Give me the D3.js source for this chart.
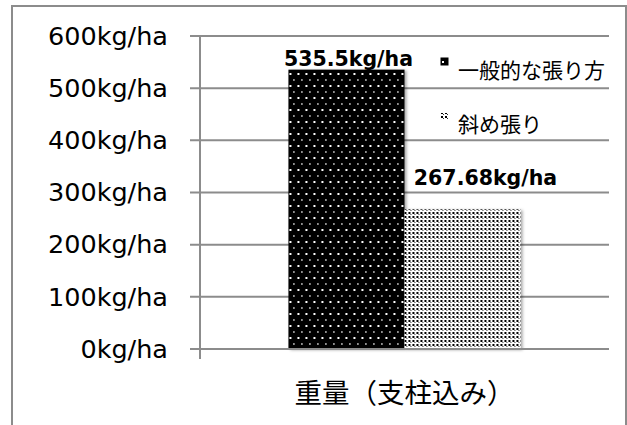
<!DOCTYPE html>
<html>
<head>
<meta charset="utf-8">
<script src="https://cdn.jsdelivr.net/npm/d3@7/dist/d3.min.js"></script>
<style>
  html, body { margin: 0; padding: 0; background: #fff; }
  svg { display: block; }
</style>
</head>
<body>
<svg id="chart" width="627" height="425"></svg>
<script>
// Harvest weight by net installation method
const categories = ["重量（支柱込み）"];
const seriesNames = ["一般的な張り方", "斜め張り"];
const seriesValues = [535.5, 267.68];
const valueLabels = ["535.5kg/ha", "267.68kg/ha"];
const yTicks = [0, 100, 200, 300, 400, 500, 600];
const yTickLabels = ["0kg/ha", "100kg/ha", "200kg/ha", "300kg/ha", "400kg/ha", "500kg/ha", "600kg/ha"];

const svg = d3.select("#chart");
const defs = svg.append("defs");

// Dark pattern: black fill with sparse white dots
const pDark = defs.append("pattern").attr("id", "patDark")
  .attr("patternUnits", "userSpaceOnUse").attr("width", 8).attr("height", 12);
pDark.append("rect").attr("width", 8).attr("height", 12).attr("fill", "#000");
pDark.append("rect").attr("x", 1).attr("y", 1).attr("width", 2).attr("height", 2).attr("fill", "#fff");
pDark.append("rect").attr("x", 5).attr("y", 7).attr("width", 1).attr("height", 2).attr("fill", "#fff");

// Light pattern: white fill with dense black dots
const pLight = defs.append("pattern").attr("id", "patLight")
  .attr("patternUnits", "userSpaceOnUse").attr("width", 4).attr("height", 4);
pLight.append("rect").attr("width", 4).attr("height", 4).attr("fill", "#fff");
pLight.append("rect").attr("x", 0).attr("y", 0).attr("width", 2).attr("height", 2).attr("fill", "#000");
pLight.append("rect").attr("x", 2).attr("y", 2).attr("width", 1).attr("height", 1).attr("fill", "#333");

const fills = ["url(#patDark)", "url(#patLight)"];

// Soft drop shadow under bars
const shadow = defs.append("filter").attr("id", "shadow")
  .attr("x", "-10%").attr("y", "-10%").attr("width", "120%").attr("height", "120%");
shadow.append("feDropShadow").attr("dx", 2).attr("dy", 1).attr("stdDeviation", 1.5)
  .attr("flood-color", "#000").attr("flood-opacity", 0.35);

// Chart frame
svg.append("rect").attr("x", 12).attr("y", 6).attr("width", 614).attr("height", 430)
  .attr("fill", "#fff").attr("stroke", "#8c8c8c").attr("stroke-width", 2);

const plot = { left: 200, right: 609, top: 36, bottom: 349 };

const y = d3.scaleLinear().domain([0, 600]).range([plot.bottom, plot.top]);
const x0 = d3.scaleBand().domain(categories).range([plot.left, plot.right]).paddingInner(0).paddingOuter(0.381);
const x1 = d3.scaleBand().domain(seriesNames).range([0, x0.bandwidth()]);

// Gridlines
svg.append("g").selectAll("line").data(yTicks).join("line")
  .attr("x1", plot.left - 10).attr("x2", plot.right)
  .attr("y1", d => y(d)).attr("y2", d => y(d))
  .attr("stroke", "#8c8c8c").attr("stroke-width", 2);

// Vertical axis line
svg.append("line").attr("x1", plot.left).attr("x2", plot.left)
  .attr("y1", plot.top).attr("y2", plot.bottom + 10)
  .attr("stroke", "#8c8c8c").attr("stroke-width", 2);

// Y tick labels
const yAxis = d3.axisLeft(y).tickValues(yTicks).tickFormat((d, i) => yTickLabels[i]).tickSize(0).tickPadding(32);
const yg = svg.append("g").attr("transform", `translate(${plot.left},0)`).call(yAxis);
yg.select(".domain").remove();
yg.selectAll("text").attr("font-family", "DejaVu Sans, Verdana, sans-serif")
  .attr("font-size", 25.5).attr("fill", "#000");

// Bars
const groups = svg.append("g").selectAll("g").data(categories).join("g")
  .attr("transform", d => `translate(${x0(d)},0)`);
groups.selectAll("rect").data(seriesNames.map((s, i) => ({ s, v: seriesValues[i], i })))
  .join("rect")
  .attr("x", d => x1(d.s)).attr("width", x1.bandwidth())
  .attr("y", d => y(d.v)).attr("height", d => y(0) - y(d.v))
  .attr("fill", d => fills[d.i]).attr("filter", "url(#shadow)");

// Bottom gridline redrawn above bars
svg.append("line").attr("x1", plot.left - 10).attr("x2", plot.right)
  .attr("y1", y(0)).attr("y2", y(0)).attr("stroke", "#8c8c8c").attr("stroke-width", 2);

// Value labels
const labelOffsets = [2, 23];
const labelLift = [4, 24];
groups.selectAll("text.val").data(seriesNames.map((s, i) => ({ s, v: seriesValues[i], i })))
  .join("text").attr("class", "val")
  .attr("x", d => x1(d.s) + x1.bandwidth() / 2 + labelOffsets[d.i])
  .attr("y", d => y(d.v) - labelLift[d.i])
  .attr("text-anchor", "middle")
  .attr("font-family", "DejaVu Sans, Verdana, sans-serif")
  .attr("font-weight", "bold").attr("font-size", 20.5)
  .text(d => valueLabels[d.i]);

// Category label
svg.append("g").selectAll("text").data(categories).join("text")
  .attr("x", d => x0(d) + x0.bandwidth() / 2 + 0).attr("y", 403)
  .attr("text-anchor", "middle")
  .attr("font-family", "Noto Sans CJK JP, sans-serif").attr("font-size", 27.5)
  .text(d => d);

// Legend
const legend = svg.append("g").attr("transform", "translate(441,0)");
const legendY = [58, 113];
const legendTextY = [78, 132];
seriesNames.forEach((name, i) => {
  legend.append("rect").attr("x", 0).attr("y", legendY[i]).attr("width", 7).attr("height", 7)
    .attr("fill", fills[i]).attr("stroke", i === 0 ? "#000" : "none");
  legend.append("text").attr("x", 17).attr("y", legendTextY[i])
    .attr("font-family", "Noto Sans CJK JP, sans-serif").attr("font-size", 21)
    .text(name);
});
</script>
</body>
</html>
